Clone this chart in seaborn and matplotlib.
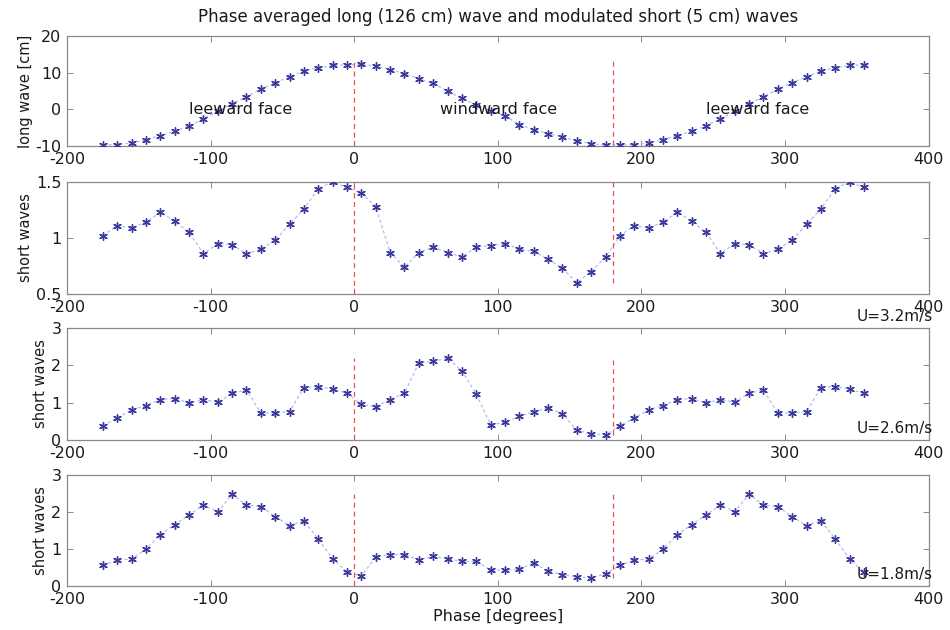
import numpy as np
import pandas as pd
import seaborn as sns
import matplotlib
matplotlib.use("Agg")
import matplotlib.pyplot as plt

# Phase bins (degrees), one period -175..175; the second half repeats -175..-5
phase_period = [-175, -165, -155, -145, -135, -125, -115, -105, -95, -85,
                -75, -65, -55, -45, -35, -25, -15, -5, 5, 15,
                25, 35, 45, 55, 65, 75, 85, 95, 105, 115,
                125, 135, 145, 155, 165, 175]
phase_extra = [185, 195, 205, 215, 225, 235, 245, 255, 265, 275,
               285, 295, 305, 315, 325, 335, 345, 355]

long_wave = [-9.7, -9.6, -9.1, -8.2, -7.1, -5.9, -4.5, -2.5, -0.5, 1.6,
             3.5, 5.5, 7.3, 8.9, 10.5, 11.4, 12.0, 12.2, 12.3, 11.8,
             10.9, 9.8, 8.4, 7.1, 5.0, 3.0, 1.2, -0.4, -1.8, -4.1,
             -5.5, -6.6, -7.5, -8.6, -9.3, -9.7]
short_32 = [1.02, 1.11, 1.09, 1.14, 1.23, 1.15, 1.05, 0.86, 0.95, 0.94,
            0.86, 0.90, 0.98, 1.12, 1.26, 1.44, 1.50, 1.45, 1.40, 1.28,
            0.87, 0.74, 0.87, 0.92, 0.87, 0.83, 0.92, 0.93, 0.95, 0.90,
            0.88, 0.81, 0.73, 0.60, 0.70, 0.83]
short_26 = [0.38, 0.59, 0.81, 0.92, 1.08, 1.11, 0.99, 1.08, 1.01, 1.25,
            1.34, 0.72, 0.72, 0.76, 1.40, 1.43, 1.36, 1.25, 0.95, 0.89,
            1.08, 1.25, 2.06, 2.10, 2.19, 1.85, 1.22, 0.41, 0.47, 0.63,
            0.75, 0.86, 0.70, 0.27, 0.16, 0.14]
short_18 = [0.56, 0.70, 0.73, 1.00, 1.39, 1.66, 1.92, 2.19, 2.01, 2.48,
            2.19, 2.15, 1.88, 1.63, 1.77, 1.27, 0.73, 0.38, 0.27, 0.79,
            0.85, 0.85, 0.70, 0.81, 0.73, 0.67, 0.67, 0.43, 0.43, 0.45,
            0.63, 0.40, 0.31, 0.25, 0.22, 0.33]

ylabels = ["long wave [cm]", "short waves", "short waves", "short waves"]
ylims = [(-10, 20), (0.5, 1.5), (0, 3), (0, 3)]
yticks = [[-10, 0, 10, 20], [0.5, 1, 1.5], [0, 1, 2, 3], [0, 1, 2, 3]]
ytick_labels = [["-10", "0", "10", "20"], ["0.5", "1", "1.5"],
                ["0", "1", "2", "3"], ["0", "1", "2", "3"]]
wind_labels = [None, "U=3.2m/s", "U=2.6m/s", "U=1.8m/s"]
xticks = [-200, -100, 0, 100, 200, 300, 400]
face_labels = ["leeward face", "windward face", "leeward face"]
face_x = [-115, 60, 245]

sns.set_style("white")
plt.rcParams['font.family'] = ['DejaVu Sans']
plt.rcParams['font.size'] = 11.5

fig = plt.figure(figsize=(9.5, 6.3), dpi=100)
boxes = [[0.0705, 0.768, 0.907, 0.1746],
         [0.0705, 0.5333, 0.907, 0.178],
         [0.0705, 0.3016, 0.907, 0.178],
         [0.0705, 0.0698, 0.907, 0.176]]

phase = phase_period + phase_extra
n_extra = len(phase_extra)
txt = "#1a1a1a"

for i, series in enumerate([long_wave, short_32, short_26, short_18]):
    ax = fig.add_axes(boxes[i])
    vals = series + series[:n_extra]
    df = pd.DataFrame({"Phase": phase, "Value": vals})

    sns.lineplot(data=df, x="Phase", y="Value", ax=ax, color="#bdb6f0",
                 linestyle=(0, (2.5, 2)), linewidth=0.9, sort=False)
    sns.scatterplot(data=df, x="Phase", y="Value", ax=ax, marker=(6, 2, 0),
                    s=30, color="#3a3a9e", linewidth=1.0, zorder=3)

    vmin, vmax = min(series), max(series)
    top = vmax + (1 if i == 0 else 0)
    ax.plot([0, 0], [ylims[i][0], top],
            color="#e05050", linestyle=(0, (4, 3)), linewidth=0.9)
    ax.plot([180, 180], [vmin, top],
            color="#e05050", linestyle=(0, (4, 3)), linewidth=0.9)

    ax.set_xlim(-200, 400)
    ax.set_ylim(*ylims[i])
    ax.set_xticks(xticks)
    ax.set_xticklabels([str(t) for t in xticks])
    ax.set_yticks(yticks[i])
    ax.set_yticklabels(ytick_labels[i])
    ax.set_xlabel("")
    ax.set_ylabel(ylabels[i], fontsize=10.5, labelpad=2, color=txt)
    ax.tick_params(direction="in", length=4, width=0.6, color="#777777",
                   top=True, right=True, bottom=True, left=True, pad=4,
                   labelcolor=txt, labelsize=11.5)
    for s in ax.spines.values():
        s.set_color("#888888")
        s.set_linewidth(0.9)

    if i == 0:
        for lab, fx in zip(face_labels, face_x):
            ax.text(fx, 0, lab, ha="left", va="center", color=txt)
        ax.set_title("Phase averaged long (126 cm) wave and modulated short (5 cm) waves",
                     fontsize=12, pad=10, color=txt)
    if wind_labels[i]:
        ax.text(350, 0.3, wind_labels[i], ha="left", va="center",
                clip_on=False, color=txt, fontsize=11)
    if i == 3:
        ax.set_xlabel("Phase [degrees]", labelpad=2, color=txt)

fig.savefig("out.png", dpi=100)
